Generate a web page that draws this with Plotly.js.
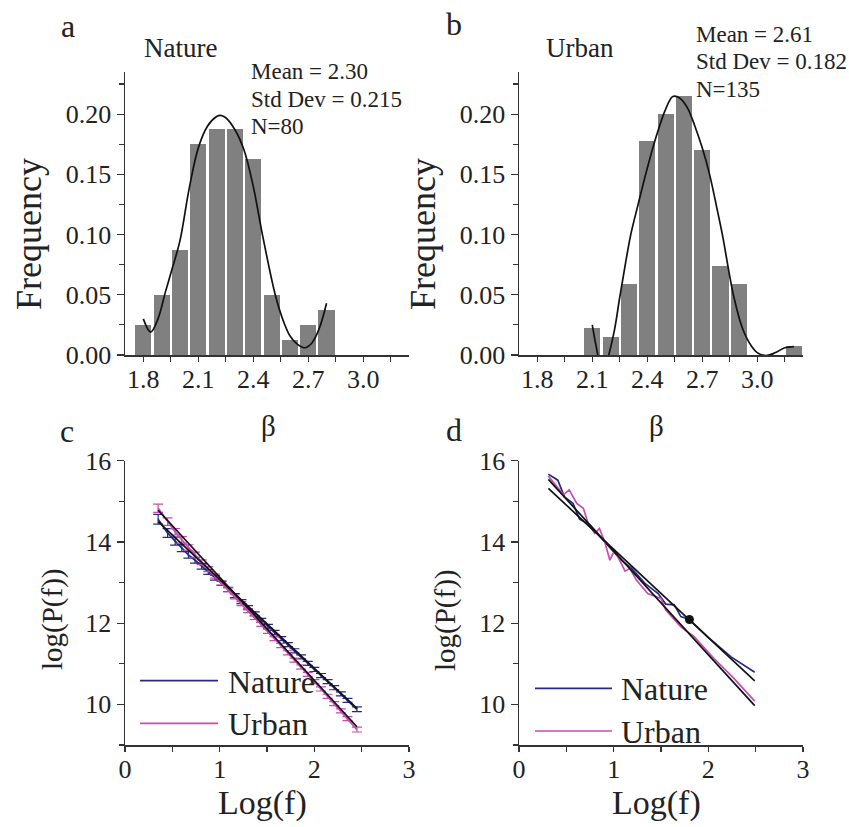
<!DOCTYPE html>
<html>
<head>
<meta charset="utf-8">
<script src="https://cdn.plot.ly/plotly-3.0.1.min.js"></script>
<style>html,body{margin:0;padding:0;background:#fff;}#chart{width:849px;height:827px;}</style>
</head>
<body>
<div id="chart"></div>
<script>
// ---------- Panel a: Nature histogram ----------
const natBins = [1.8, 1.9, 2.0, 2.1, 2.2, 2.3, 2.4, 2.5, 2.6, 2.7, 2.8];
const natFreq = [0.025, 0.05, 0.0875, 0.175, 0.1875, 0.1875, 0.1625, 0.05, 0.0125, 0.025, 0.0375];
const natCurveX = [1.80, 1.84, 1.88, 1.92, 1.96, 2.00, 2.05, 2.10, 2.15, 2.20, 2.22, 2.25, 2.30, 2.35, 2.40, 2.45, 2.52, 2.56, 2.60, 2.64, 2.68, 2.72, 2.76, 2.80];
const natCurveY = [0.030, 0.019, 0.030, 0.052, 0.073, 0.095, 0.138, 0.172, 0.190, 0.198, 0.199, 0.197, 0.187, 0.170, 0.140, 0.100, 0.050, 0.030, 0.016, 0.009, 0.006, 0.010, 0.022, 0.043];

// ---------- Panel b: Urban histogram ----------
const urbBins = [2.1, 2.2, 2.3, 2.4, 2.5, 2.6, 2.7, 2.8, 2.9, 3.0, 3.1, 3.2];
const urbFreq = [0.0222, 0.0148, 0.0593, 0.1778, 0.2, 0.2148, 0.1704, 0.0741, 0.0593, 0, 0, 0.0074];
const urbCurveX = [2.10, 2.12, 2.14, 2.17, 2.19, 2.22, 2.25, 2.28, 2.31, 2.35, 2.40, 2.45, 2.50, 2.54, 2.58, 2.62, 2.66, 2.70, 2.74, 2.78, 2.81, 2.87, 2.92, 2.97, 3.00, 3.05, 3.10, 3.15, 3.20];
const urbCurveY = [0.025, 0.008, -0.005, -0.012, 0.000, 0.020, 0.048, 0.075, 0.100, 0.125, 0.155, 0.182, 0.204, 0.2147, 0.213, 0.205, 0.190, 0.172, 0.150, 0.122, 0.100, 0.050, 0.022, 0.007, 0.002, -0.0005, 0.002, 0.006, 0.007];

// ---------- Panel c: averaged spectra with error bars ----------
const cLogF = [0.35, 0.45, 0.53, 0.60, 0.67, 0.74, 0.81, 0.88, 0.95, 1.02, 1.09, 1.16, 1.23, 1.30, 1.37, 1.44, 1.51, 1.58, 1.65, 1.72, 1.79, 1.86, 1.93, 2.00, 2.07, 2.14, 2.21, 2.28, 2.35, 2.45];
const cNature = [14.56, 14.22, 14.02, 13.85, 13.68, 13.55, 13.40, 13.26, 13.12, 12.98, 12.83, 12.68, 12.53, 12.38, 12.23, 12.07, 11.92, 11.77, 11.62, 11.47, 11.32, 11.17, 11.01, 10.86, 10.71, 10.56, 10.41, 10.26, 10.10, 9.88];
const cNatureErr = [0.12, 0.11, 0.10, 0.09, 0.08, 0.07, 0.07, 0.06, 0.06, 0.05, 0.05, 0.05, 0.05, 0.05, 0.05, 0.05, 0.05, 0.05, 0.05, 0.05, 0.05, 0.05, 0.05, 0.05, 0.05, 0.05, 0.05, 0.05, 0.05, 0.06];
const cUrban = [14.83, 14.50, 14.25, 14.05, 13.86, 13.68, 13.50, 13.33, 13.16, 12.99, 12.82, 12.65, 12.48, 12.31, 12.14, 11.97, 11.80, 11.62, 11.45, 11.27, 11.09, 10.92, 10.74, 10.56, 10.38, 10.20, 10.02, 9.84, 9.65, 9.38];
const cUrbanErr = [0.10, 0.09, 0.08, 0.08, 0.07, 0.07, 0.06, 0.06, 0.05, 0.05, 0.05, 0.05, 0.05, 0.05, 0.05, 0.05, 0.05, 0.05, 0.05, 0.05, 0.05, 0.05, 0.05, 0.05, 0.05, 0.05, 0.05, 0.05, 0.05, 0.06];
const cFitX = [0.35, 2.45];
const cNatureFit = [14.50, 9.90];
const cUrbanFit = [14.78, 9.45];

// ---------- Panel d: single spectra ----------
const dNatureX = [0.31, 0.41, 0.48, 0.57, 0.64, 0.75, 0.87, 0.98, 1.08, 1.19, 1.33, 1.47, 1.55, 1.64, 1.71, 1.80, 1.99, 2.24, 2.49];
const dNatureY = [15.67, 15.52, 15.11, 14.95, 14.56, 14.42, 14.09, 13.80, 13.55, 13.35, 12.98, 12.73, 12.47, 12.45, 12.16, 12.09, 11.67, 11.17, 10.79];
const dUrbanX = [0.31, 0.47, 0.53, 0.61, 0.68, 0.73, 0.80, 0.85, 0.91, 0.96, 1.01, 1.12, 1.17, 1.24, 1.36, 1.50, 1.55, 1.71, 1.85, 2.06, 2.27, 2.49];
const dUrbanY = [15.62, 15.16, 15.28, 14.95, 14.83, 14.46, 14.21, 14.33, 13.97, 13.55, 13.80, 13.28, 13.35, 13.06, 12.73, 12.61, 12.32, 11.91, 11.67, 11.13, 10.64, 10.08];
const dFitX = [0.31, 2.49];
const dNatureFit = [15.32, 10.58];
const dUrbanFit = [15.54, 9.97];
const dDotX = [1.80];
const dDotY = [12.09];

// ---------- Styling ----------
const FONT = 'Liberation Serif, Times New Roman, serif';
const NAVY = '#262a86';
const PINK = '#c94bb2';
const GRAY = '#808080';
const W = 849, H = 827;
const px = v => v / W;
const py = v => 1 - v / H;

const traces = [
  {type: 'bar', x: natBins, y: natFreq, width: 0.088, marker: {color: GRAY, line: {width: 0}}, xaxis: 'x', yaxis: 'y', showlegend: false, hoverinfo: 'skip'},
  {type: 'scatter', mode: 'lines', x: natCurveX, y: natCurveY, line: {color: '#111', width: 1.7, shape: 'spline'}, xaxis: 'x', yaxis: 'y', showlegend: false},
  {type: 'bar', x: urbBins, y: urbFreq, width: 0.088, marker: {color: GRAY, line: {width: 0}}, xaxis: 'x2', yaxis: 'y2', showlegend: false, hoverinfo: 'skip'},
  {type: 'scatter', mode: 'lines', x: urbCurveX, y: urbCurveY, line: {color: '#111', width: 1.7, shape: 'spline'}, xaxis: 'x2', yaxis: 'y2', showlegend: false},

  {type: 'scatter', mode: 'lines', x: cLogF, y: cNature, line: {color: NAVY, width: 1.8},
   error_y: {type: 'data', array: cNatureErr, visible: true, color: NAVY, thickness: 1.2, width: 5}, xaxis: 'x3', yaxis: 'y3', showlegend: false},
  {type: 'scatter', mode: 'lines', x: cLogF, y: cUrban, line: {color: PINK, width: 1.8},
   error_y: {type: 'data', array: cUrbanErr, visible: true, color: PINK, thickness: 1.2, width: 5}, xaxis: 'x3', yaxis: 'y3', showlegend: false},
  {type: 'scatter', mode: 'lines', x: cFitX, y: cNatureFit, line: {color: '#111', width: 1.7}, xaxis: 'x3', yaxis: 'y3', showlegend: false},
  {type: 'scatter', mode: 'lines', x: cFitX, y: cUrbanFit, line: {color: '#111', width: 1.7}, xaxis: 'x3', yaxis: 'y3', showlegend: false},

  {type: 'scatter', mode: 'lines', x: dNatureX, y: dNatureY, line: {color: NAVY, width: 1.7}, xaxis: 'x4', yaxis: 'y4', showlegend: false},
  {type: 'scatter', mode: 'lines', x: dUrbanX, y: dUrbanY, line: {color: PINK, width: 1.7}, xaxis: 'x4', yaxis: 'y4', showlegend: false},
  {type: 'scatter', mode: 'lines', x: dFitX, y: dNatureFit, line: {color: '#111', width: 1.7}, xaxis: 'x4', yaxis: 'y4', showlegend: false},
  {type: 'scatter', mode: 'lines', x: dFitX, y: dUrbanFit, line: {color: '#111', width: 1.7}, xaxis: 'x4', yaxis: 'y4', showlegend: false},
  {type: 'scatter', mode: 'markers', x: dDotX, y: dDotY, marker: {color: '#111', size: 9}, xaxis: 'x4', yaxis: 'y4', showlegend: false}
];

const tickFont = {family: FONT, size: 26, color: '#222'};
const common = {ticks: 'outside', tickwidth: 1.2, tickcolor: '#333', showline: true, linecolor: '#333', linewidth: 1.5,
  showgrid: false, zeroline: false, automargin: false, tickfont: tickFont, fixedrange: true};

function histX(domain, anchor) {
  return Object.assign({}, common, {domain: domain, anchor: anchor, range: [1.70, 3.25],
    tickvals: [1.8, 2.1, 2.4, 2.7, 3.0], ticktext: ['1.8', '2.1', '2.4', '2.7', '3.0'], ticklen: 5, ticklabelstandoff: -5,
    minor: {tickvals: [1.95, 2.25, 2.55, 2.85, 3.15], ticks: 'outside', ticklen: 5, tickwidth: 1.2, tickcolor: '#333', showgrid: false}});
}
function histY(domain, anchor) {
  return Object.assign({}, common, {domain: domain, anchor: anchor, range: [0, 0.235], tick0: 0, dtick: 0.05, tickformat: '.2f', ticklen: 7,
    minor: {dtick: 0.025, tick0: 0, ticks: 'outside', ticklen: 5, tickwidth: 1.2, tickcolor: '#333', showgrid: false}});
}
function specX(domain, anchor) {
  return Object.assign({}, common, {domain: domain, anchor: anchor, range: [0, 3], tick0: 0, dtick: 1, ticklen: 5, ticklabelstandoff: -5,
    minor: {dtick: 0.5, tick0: 0, ticks: 'outside', ticklen: 5, tickwidth: 1.2, tickcolor: '#333', showgrid: false}});
}
function specY(domain, anchor) {
  return Object.assign({}, common, {domain: domain, anchor: anchor, range: [9, 16], tick0: 10, dtick: 2, ticklen: 7,
    minor: {dtick: 1, tick0: 9, ticks: 'outside', ticklen: 5, tickwidth: 1.2, tickcolor: '#333', showgrid: false}});
}

const leftX = [px(125), px(409)];
const rightX = [px(519), px(803)];
const topY = [py(355), py(72)];
const botY = [py(745), py(460.7)];

function ann(text, x, y, size, xanchor, angle) {
  return {text: text, x: px(x), y: py(y), xref: 'paper', yref: 'paper', xanchor: xanchor || 'center', yanchor: 'middle',
    textangle: angle || 0, showarrow: false, font: {family: FONT, size: size, color: '#222'}};
}

const annotations = [
  // panel letters
  ann('a', 68, 26, 32), ann('b', 454, 24, 32), ann('c', 67, 431, 32), ann('d', 454, 430, 32),
  // axis titles
  ann('Frequency', 29, 234, 36, 'center', -90), ann('Frequency', 423, 234, 36, 'center', -90),
  ann('β', 268, 426, 29), ann('β', 656, 426, 29),
  ann('log(P(f))', 52, 620, 29, 'center', -90), ann('log(P(f))', 445, 620, 29, 'center', -90),
  ann('Log(f)', 262, 803, 34), ann('Log(f)', 656, 803, 34),
  // panel titles and statistics
  ann('Nature', 180, 48, 27), ann('Urban', 580, 48, 27),
  ann('Mean = 2.30', 249, 71, 23, 'left'), ann('Std Dev = 0.215', 249, 99, 23, 'left'), ann('N=80', 249, 127, 23, 'left'),
  ann('Mean = 2.61', 694, 34, 23, 'left'), ann('Std Dev = 0.182', 694, 62, 23, 'left'), ann('N=135', 694, 90, 23, 'left'),
  // legend labels
  ann('Nature', 226, 682, 32, 'left'), ann('Urban', 226, 724, 32, 'left'),
  ann('Nature', 619, 689, 32, 'left'), ann('Urban', 619, 732, 32, 'left')
];

function legLine(x0, x1, y, color) {
  return {type: 'line', xref: 'paper', yref: 'paper', x0: px(x0), x1: px(x1), y0: py(y), y1: py(y), line: {color: color, width: 1.7}};
}
const shapes = [
  legLine(140, 218, 680.7, NAVY), legLine(140, 218, 723.3, PINK),
  legLine(535, 612, 688.3, NAVY), legLine(535, 612, 731, PINK)
];

const layout = {
  width: W, height: H, margin: {l: 0, r: 0, t: 0, b: 0},
  paper_bgcolor: '#fff', plot_bgcolor: '#fff',
  font: {family: FONT, color: '#222'},
  showlegend: false, bargap: 0,
  xaxis: histX(leftX, 'y'), yaxis: histY(topY, 'x'),
  xaxis2: histX(rightX, 'y2'), yaxis2: histY(topY, 'x2'),
  xaxis3: specX(leftX, 'y3'), yaxis3: specY(botY, 'x3'),
  xaxis4: specX(rightX, 'y4'), yaxis4: specY(botY, 'x4'),
  annotations: annotations, shapes: shapes
};

Plotly.newPlot('chart', traces, layout, {staticPlot: true, displayModeBar: false});
</script>
</body>
</html>
